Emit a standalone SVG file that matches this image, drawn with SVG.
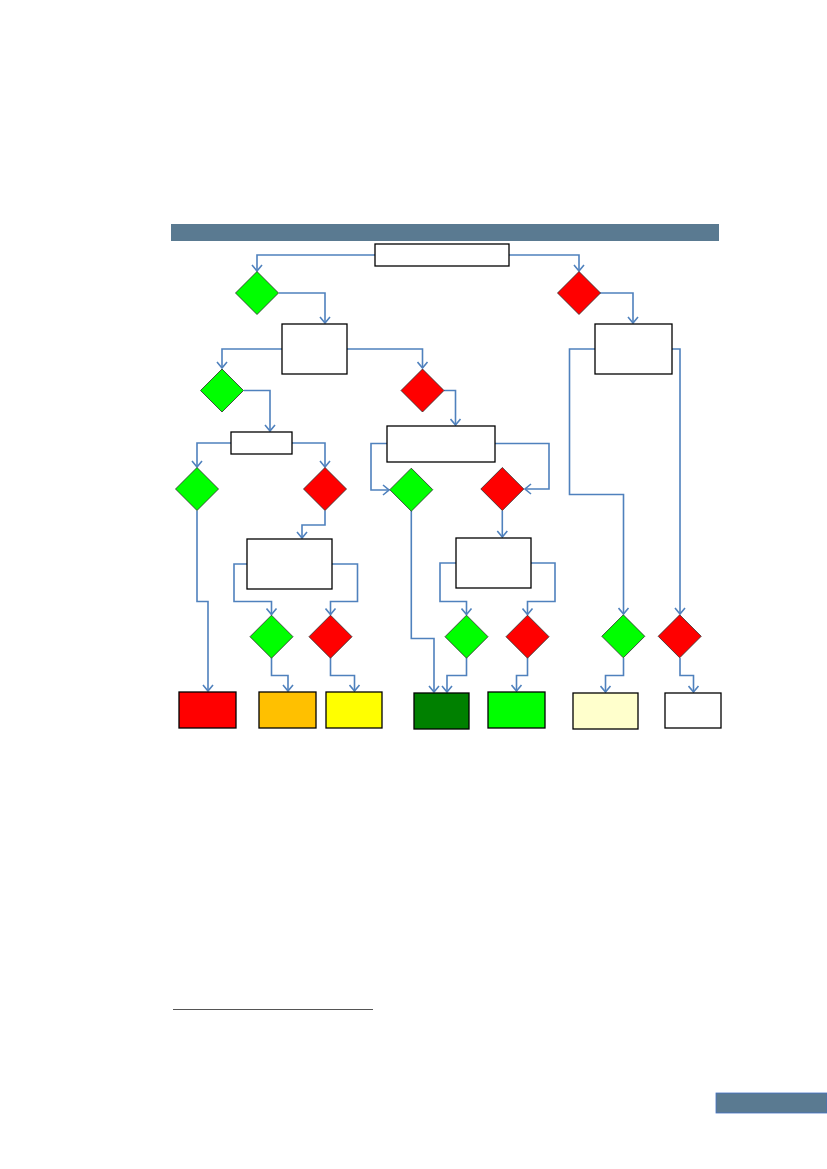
<svg xmlns="http://www.w3.org/2000/svg" width="827" height="1169" viewBox="0 0 827 1169">
<defs>
<style>
.box{fill:#FFFFFF;stroke:#000000;stroke-width:1.3}
.yes{fill:#00FF00;stroke:#2a2a2a;stroke-width:0.8}
.no{fill:#FF0000;stroke:#2a2a2a;stroke-width:0.8}
.conn path{fill:none;stroke:#4F81BD;stroke-width:1.6;marker-end:url(#arr)}
.band{fill:#5A7A91}
</style>
<marker id="arr" markerUnits="userSpaceOnUse" markerWidth="8" markerHeight="12" viewBox="0 0 8 12" refX="7" refY="6" orient="auto">
<path d="M1,1 L7,6 L1,11" fill="none" stroke="#4F81BD" stroke-width="1.6"/>
</marker>
</defs>
<rect width="827" height="1169" fill="#FFFFFF"/>
<rect class="band" x="171" y="224" width="548" height="17"/>
<rect class="band" x="716" y="1093" width="111" height="20" stroke="#4472C4" stroke-width="0.8"/>
<line x1="173" y1="1009.5" x2="373" y2="1009.5" stroke="#555555" stroke-width="1.2"/>

<g id="connectors" class="conn">
<path d="M375,255 H257 V271"/>
<path d="M509,255 H579 V271"/>
<path d="M279,293 H325 V323"/>
<path d="M600,293 H633 V323"/>
<path d="M282,349 H222 V368"/>
<path d="M347,349 H422.5 V368"/>
<path d="M244,390.5 H270 V431"/>
<path d="M444,390.5 H455.5 V425"/>
<path d="M231,443 H197 V467"/>
<path d="M292,443 H325 V467"/>
<path d="M387,443.5 H371 V490 H389"/>
<path d="M495,443.5 H549 V489 H525"/>
<path d="M197,510.5 V601.5 H208 V691"/>
<path d="M325,510.5 V525 H302 V538"/>
<path d="M502.3,510.5 V537"/>
<path d="M411.3,511 V638.5 H434 V692"/>
<path d="M247,564 H234 V601.5 H271.5 V614.5"/>
<path d="M332,564 H357.5 V601.5 H330.5 V614.5"/>
<path d="M456,563 H440 V601.5 H466.5 V614.5"/>
<path d="M531,563 H555 V601.5 H527.5 V614.5"/>
<path d="M271.5,658 V675.5 H288 V691"/>
<path d="M330.5,658 V675.5 H354.5 V691"/>
<path d="M466.5,658 V675.5 H447 V692"/>
<path d="M527.5,658 V675.5 H516.5 V691"/>
<path d="M595,349 H569.5 V494.5 H623.5 V614"/>
<path d="M672,349 H680 V614"/>
<path d="M623.5,658 V675.5 H605.5 V692"/>
<path d="M680,658 V675.5 H693.5 V692"/>
</g>

<g id="root"><rect class="box" x="375" y="244" width="134" height="22"/></g>
<g id="box2"><rect class="box" x="282" y="324" width="65" height="50"/></g>
<g id="box7"><rect class="box" x="595" y="324" width="77" height="50"/></g>
<g id="box3"><rect class="box" x="231" y="432" width="61" height="22"/></g>
<g id="box4"><rect class="box" x="387" y="426" width="108" height="36"/></g>
<g id="box5"><rect class="box" x="247" y="539" width="85" height="50"/></g>
<g id="box6"><rect class="box" x="456" y="538" width="75" height="50"/></g>

<g id="d-yes-1"><polygon class="yes" points="257,271.5 278.5,293 257,314.5 235.5,293"/></g>
<g id="d-no-r"><polygon class="no" points="579,271.5 600.5,293 579,314.5 557.5,293"/></g>
<g id="d-yes-2"><polygon class="yes" points="222,369 243.5,390.5 222,412 200.5,390.5"/></g>
<g id="d-no-1"><polygon class="no" points="422.5,369 444,390.5 422.5,412 401,390.5"/></g>
<g id="d-yes-3"><polygon class="yes" points="197,467.5 218.5,489 197,510.5 175.5,489"/></g>
<g id="d-no-2"><polygon class="no" points="325,467.5 346.5,489 325,510.5 303.5,489"/></g>
<g id="d-yes-5"><polygon class="yes" points="411.3,468.2 432.8,489.7 411.3,511.2 389.8,489.7"/></g>
<g id="d-no-4"><polygon class="no" points="502.3,467.5 523.8,489 502.3,510.5 480.8,489"/></g>
<g id="d-yes-4"><polygon class="yes" points="271.5,615.2 293,636.7 271.5,658.2 250,636.7"/></g>
<g id="d-no-3"><polygon class="no" points="330.5,615.2 352,636.7 330.5,658.2 309,636.7"/></g>
<g id="d-yes-6"><polygon class="yes" points="466.5,615.2 488,636.7 466.5,658.2 445,636.7"/></g>
<g id="d-no-5"><polygon class="no" points="527.5,615.2 549,636.7 527.5,658.2 506,636.7"/></g>
<g id="d-yes-7"><polygon class="yes" points="623.3,614.8 644.8,636.3 623.3,657.8 601.8,636.3"/></g>
<g id="d-no-6"><polygon class="no" points="679.7,614.8 701.2,636.3 679.7,657.8 658.2,636.3"/></g>

<g id="out-red"><rect class="box" x="179" y="692" width="57" height="36" fill="#FF0000" style="fill:#FF0000"/></g>
<g id="out-orange"><rect class="box" x="259" y="692" width="57" height="36" style="fill:#FFC000"/></g>
<g id="out-yellow"><rect class="box" x="326" y="692" width="56" height="36" style="fill:#FFFF00"/></g>
<g id="out-darkgreen"><rect class="box" x="414" y="693" width="55" height="36" style="fill:#008000"/></g>
<g id="out-green"><rect class="box" x="488" y="692" width="57" height="36" style="fill:#00FF00"/></g>
<g id="out-lightyellow"><rect class="box" x="573" y="693" width="65" height="36" style="fill:#FFFFCC"/></g>
<g id="out-white"><rect class="box" x="665" y="693" width="56" height="35"/></g>
</svg>
